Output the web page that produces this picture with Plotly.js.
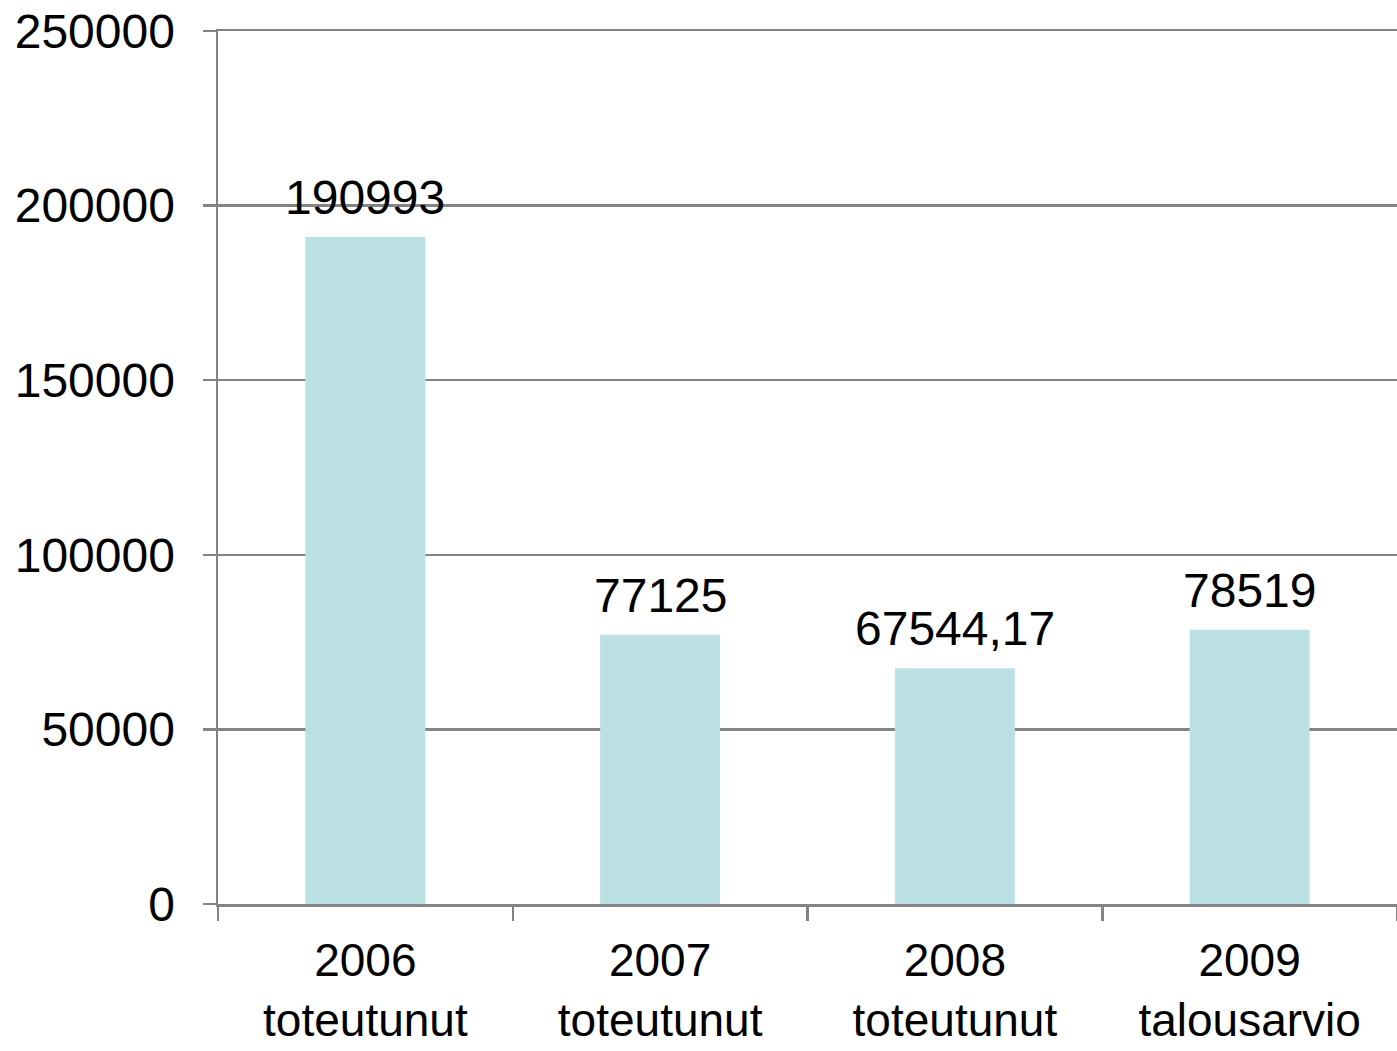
<!DOCTYPE html>
<html>
<head>
<meta charset="utf-8">
<script src="https://cdn.plot.ly/plotly-3.0.1.min.js"></script>
<style>
html,body{margin:0;padding:0;background:#fff;}
#chart{width:1397px;height:1051px;}
</style>
</head>
<body>
<div id="chart"></div>
<script>
const categories = ["2006<br>toteutunut", "2007<br>toteutunut", "2008<br>toteutunut", "2009<br>talousarvio"];
const values = [190993, 77125, 67544.17, 78519];
const valueLabels = ["190993", "77125", "67544,17", "78519"];
const yTicks = [0, 50000, 100000, 150000, 200000, 250000];

const font = {family: "Liberation Sans, Arial, sans-serif", size: 48, color: "#000"};
const xFont = {family: "Liberation Sans, Arial, sans-serif", size: 46, color: "#000"};
const gray = "#848484";

const trace = {
  type: "bar",
  x: categories,
  y: values,
  marker: {color: "#BBE0E3"},
  hoverinfo: "none"
};

const annotations = categories.map((c, i) => ({
  x: c, y: values[i], xref: "x", yref: "y",
  text: valueLabels[i], showarrow: false,
  yanchor: "bottom", yshift: 11,
  font: font
}));

const layout = {
  width: 1397, height: 1051,
  margin: {l: 218, r: 0, t: 31, b: 147},
  paper_bgcolor: "#fff", plot_bgcolor: "#fff",
  bargap: 0.593,
  showlegend: false,
  font: font,
  xaxis: {
    type: "category",
    showline: true, linecolor: gray, linewidth: 2.5, mirror: true,
    ticks: "outside", tickson: "boundaries", ticklen: 14, tickwidth: 2.5, tickcolor: gray,
    showgrid: false, zeroline: false,
    tickfont: xFont,
    ticklabelstandoff: 14
  },
  yaxis: {
    range: [0, 250000],
    tickvals: yTicks,
    ticktext: yTicks.map(String),
    showline: true, linecolor: gray, linewidth: 2.5,
    ticks: "outside", ticklen: 13, tickwidth: 2.5, tickcolor: gray,
    showgrid: true, gridcolor: gray, gridwidth: 2.5,
    zeroline: false,
    tickfont: font,
    ticklabelstandoff: 18
  },
  annotations: annotations
};

Plotly.newPlot("chart", [trace], layout, {staticPlot: true, displayModeBar: false});
</script>
</body>
</html>
